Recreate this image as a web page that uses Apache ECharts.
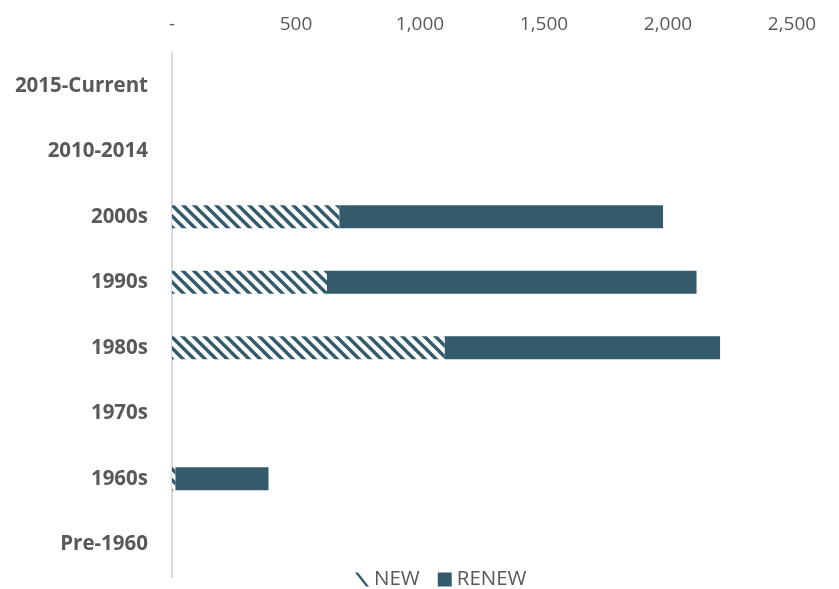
<!DOCTYPE html>
<html>
<head>
<meta charset="utf-8">
<script src="https://cdn.jsdelivr.net/npm/echarts@6/dist/echarts.min.js"></script>
<style>html,body{margin:0;padding:0;background:#fff}#c{width:839px;height:589px}</style>
</head>
<body>
<div id="c"></div>
<script>
const categories = ['Pre-1960', '1960s', '1970s', '1980s', '1990s', '2000s', '2010-2014', '2015-Current'];
const newValues = [0, 14, 0, 1100, 625, 675, 0, 0];
const renewValues = [0, 375, 0, 1110, 1490, 1305, 0, 0];
const xTicks = [0, 500, 1000, 1500, 2000, 2500];

const teal = '#345b6b';
function hatch() {
  const s = 11;
  const c = document.createElement('canvas');
  c.width = s; c.height = s;
  const g = c.getContext('2d');
  g.fillStyle = '#fff';
  g.fillRect(0, 0, s, s);
  g.strokeStyle = teal;
  g.lineWidth = 3.4;
  for (const off of [-s, 0, s]) {
    g.beginPath();
    g.moveTo(off - 2, -2);
    g.lineTo(off + s + 2, s + 2);
    g.stroke();
  }
  return c;
}

const chart = echarts.init(document.getElementById('c'));
const font = 'Open Sans, Liberation Sans, sans-serif';
chart.setOption({
  animation: false,
  grid: { left: 172, right: 47, top: 53, bottom: 12, containLabel: false },
  xAxis: {
    type: 'value', position: 'top', min: 0, max: 2500, interval: 500,
    axisLine: { show: false }, axisTick: { show: false }, splitLine: { show: false },
    axisLabel: {
      color: '#595959', fontSize: 19, fontFamily: font, margin: 19,
      formatter: v => v === 0 ? '-' : v.toLocaleString('en-US')
    }
  },
  yAxis: {
    type: 'category', data: categories,
    axisLine: { show: true, lineStyle: { color: '#d9d9d9', width: 2 } },
    axisTick: { show: false },
    axisLabel: { color: '#595959', fontSize: 20.5, fontWeight: 'bold', fontFamily: font, margin: 24 }
  },
  legend: {
    bottom: -6, left: 350, itemGap: 18, itemWidth: 14, itemHeight: 14,
    textStyle: { color: '#595959', fontSize: 20.5, fontFamily: font },
    data: [
      { name: 'NEW', icon: 'path://M0,0 L3,0 L14,14 L11,14 Z', itemStyle: { color: teal } },
      { name: 'RENEW', icon: 'rect', itemStyle: { color: teal } }
    ]
  },
  series: [
    {
      name: 'NEW', type: 'bar', stack: 't', barWidth: 23, data: newValues,
      itemStyle: { color: { image: hatch(), repeat: 'repeat' } }
    },
    {
      name: 'RENEW', type: 'bar', stack: 't', barWidth: 23, data: renewValues,
      itemStyle: { color: teal }
    }
  ]
});
</script>
</body>
</html>
